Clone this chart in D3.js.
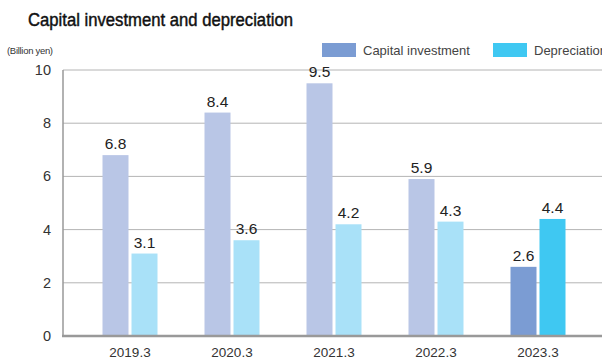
<!DOCTYPE html>
<html><head><meta charset="utf-8">
<script src="https://cdn.jsdelivr.net/npm/d3@7"></script>
<style>body{margin:0;background:#fff}svg{display:block}text{font-family:"Liberation Sans",Arial,sans-serif}</style>
</head><body><svg id="c" width="602" height="360"></svg>
<script>
const categories = ["2019.3","2020.3","2021.3","2022.3","2023.3"];
const capital = [6.8, 8.4, 9.5, 5.9, 2.6];
const depreciation = [3.1, 3.6, 4.2, 4.3, 4.4];
const yTicks = [0,2,4,6,8,10];
const seriesNames = ["Capital investment","Depreciation"];

const svg = d3.select("#c");
const x0 = 63, x1 = 640, yTop = 70, yBot = 336;
const x = d3.scaleBand().domain(categories).range([79, 589]).paddingInner(0).paddingOuter(0);
const y = d3.scaleLinear().domain([0,10]).range([yBot, yTop]);

// title
svg.append("text").attr("x",28).attr("y",26).attr("font-size",18).attr("fill","#111")
  .attr("stroke","#111").attr("stroke-width",0.45).attr("textLength",265).attr("lengthAdjust","spacingAndGlyphs")
  .text("Capital investment and depreciation");
svg.append("text").attr("x",7).attr("y",54).attr("font-size",9.5).attr("fill","#333").attr("letter-spacing",-0.3).text("(Billion yen)");

// gridlines
svg.append("g").selectAll("line").data(yTicks.filter(d=>d>0)).join("line")
  .attr("x1",x0).attr("x2",x1).attr("y1",d=>y(d)).attr("y2",d=>y(d))
  .attr("stroke","#b4b4b4").attr("stroke-width",1);
svg.append("line").attr("x1",x0).attr("x2",x0).attr("y1",yTop).attr("y2",yBot).attr("stroke","#999").attr("stroke-width",1.5);

// y axis labels
svg.append("g").selectAll("text").data(yTicks).join("text")
  .attr("x",51).attr("y",d=>y(d)+5).attr("text-anchor","end").attr("font-size",14.5).attr("fill","#333").text(d=>d);

const bw = 26, gap = 3;
const cx = c => x(c) + x.bandwidth()/2;
const colCap = (i) => i===categories.length-1 ? "#7b9cd3" : "#b9c6e6";
const colDep = (i) => i===categories.length-1 ? "#3fc8f2" : "#a9e1f8";

const g = svg.append("g");
g.selectAll("rect.cap").data(capital).join("rect").attr("class","cap")
  .attr("x",(d,i)=>cx(categories[i]) - gap/2 - bw).attr("width",bw)
  .attr("y",d=>y(d)).attr("height",d=>yBot-y(d)).attr("fill",(d,i)=>colCap(i));
g.selectAll("rect.dep").data(depreciation).join("rect").attr("class","dep")
  .attr("x",(d,i)=>cx(categories[i]) + gap/2).attr("width",bw)
  .attr("y",d=>y(d)).attr("height",d=>yBot-y(d)).attr("fill",(d,i)=>colDep(i));

g.selectAll("text.lc").data(capital).join("text").attr("class","lc")
  .attr("x",(d,i)=>cx(categories[i]) - gap/2 - bw/2).attr("y",d=>y(d)-6)
  .attr("text-anchor","middle").attr("font-size",15.5).attr("fill","#222").text(d=>d.toFixed(1));
g.selectAll("text.ld").data(depreciation).join("text").attr("class","ld")
  .attr("x",(d,i)=>cx(categories[i]) + gap/2 + bw/2).attr("y",d=>y(d)-6)
  .attr("text-anchor","middle").attr("font-size",15.5).attr("fill","#222").text(d=>d.toFixed(1));

// baseline
svg.append("line").attr("x1",x0-1).attr("x2",x1).attr("y1",yBot).attr("y2",yBot).attr("stroke","#999").attr("stroke-width",2.5);

// category labels
svg.append("g").selectAll("text").data(categories).join("text")
  .attr("x",d=>cx(d)).attr("y",357).attr("text-anchor","middle").attr("font-size",13.5).attr("fill","#333").text(d=>d);

// legend
const leg = [{n:seriesNames[0],c:"#7b9cd3",x:322},{n:seriesNames[1],c:"#3fc8f2",x:493}];
leg.forEach(l=>{
  svg.append("rect").attr("x",l.x).attr("y",43).attr("width",34).attr("height",14).attr("fill",l.c);
  svg.append("text").attr("x",l.x+41).attr("y",55).attr("font-size",13).attr("fill","#444").text(l.n);
});
</script></body></html>
